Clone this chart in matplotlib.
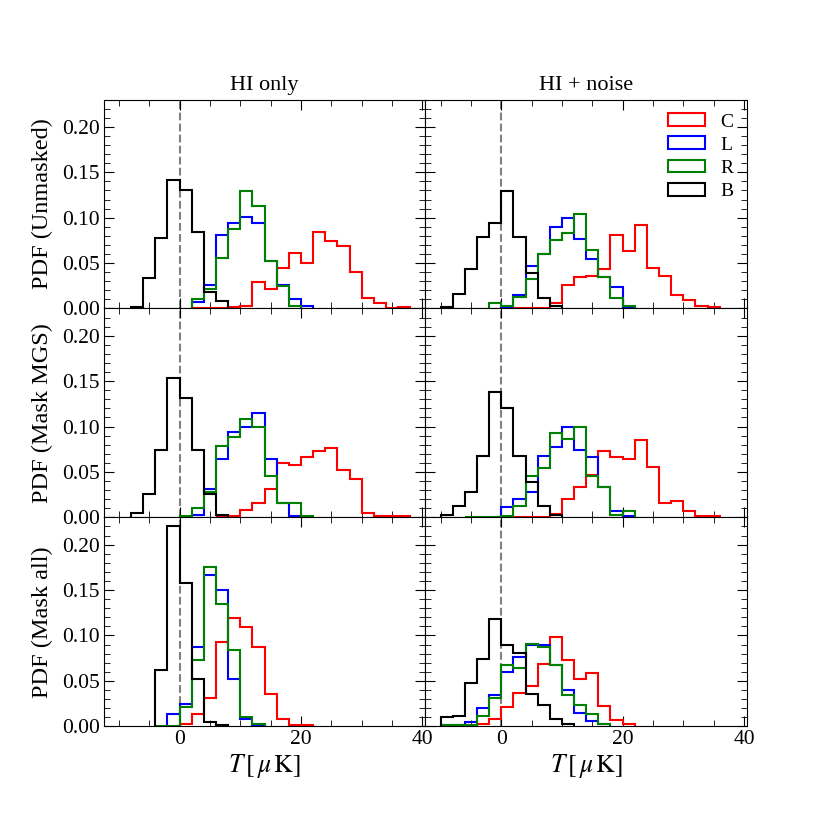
import numpy as np
import matplotlib
matplotlib.use("Agg")
import matplotlib.pyplot as plt
from matplotlib.ticker import MultipleLocator

plt.rcParams['font.family'] = 'serif'
plt.rcParams['font.serif'] = ['Liberation Serif', 'DejaVu Serif']
plt.rcParams['mathtext.fontset'] = 'stix'
plt.rcParams['font.size'] = 17.5

# bin edges (muK), 2 muK wide bins
edges = np.arange(-12, 41, 2)

# PDF values per bin, left edge -12, -10, ..., 38
# HI only, unmasked
hi_unm_C = [0, 0, 0, 0, 0, 0, 0, 0.0005, 0.0005, 0.0005, 0.002, 0.003, 0.029, 0.022, 0.045, 0.061, 0.050, 0.084, 0.074, 0.069, 0.040, 0.012, 0.006, 0.0005, 0.002, 0]
hi_unm_L = [0, 0, 0, 0, 0, 0, 0, 0.007, 0.026, 0.081, 0.094, 0.101, 0.094, 0.052, 0.026, 0.010, 0.003, 0, 0, 0, 0, 0, 0, 0, 0, 0]
hi_unm_R = [0, 0, 0, 0, 0, 0, 0, 0.010, 0.022, 0.056, 0.088, 0.129, 0.113, 0.052, 0.025, 0.003, 0, 0, 0, 0, 0, 0, 0, 0, 0, 0]
hi_unm_B = [0, 0, 0.002, 0.034, 0.078, 0.141, 0.131, 0.084, 0.018, 0.008, 0, 0, 0, 0, 0, 0, 0, 0, 0, 0, 0, 0, 0, 0, 0, 0]

# HI + noise, unmasked
hn_unm_C = [0, 0, 0, 0, 0, 0, 0, 0.0005, 0.0005, 0.0005, 0.006, 0.026, 0.035, 0.036, 0.044, 0.081, 0.063, 0.092, 0.045, 0.036, 0.015, 0.009, 0.003, 0.002, 0, 0]
hn_unm_L = [0, 0, 0, 0, 0, 0, 0.002, 0.015, 0.047, 0.060, 0.090, 0.100, 0.077, 0.055, 0.035, 0.024, 0.002, 0, 0, 0, 0, 0, 0, 0, 0, 0]
hn_unm_R = [0, 0, 0, 0, 0, 0.006, 0.003, 0.013, 0.033, 0.060, 0.075, 0.083, 0.104, 0.064, 0.035, 0.011, 0.003, 0, 0, 0, 0, 0, 0, 0, 0, 0]
hn_unm_B = [0, 0.002, 0.016, 0.043, 0.079, 0.094, 0.129, 0.079, 0.039, 0.012, 0.003, 0, 0, 0, 0, 0, 0, 0, 0, 0, 0, 0, 0, 0, 0, 0]

# HI only, mask MGS
hi_mgs_C = [0, 0, 0, 0, 0, 0, 0, 0, 0, 0.0005, 0.001, 0.008, 0.016, 0.031, 0.060, 0.058, 0.066, 0.073, 0.076, 0.052, 0.042, 0.005, 0.001, 0.001, 0.001, 0]
hi_mgs_L = [0, 0, 0, 0, 0, 0, 0, 0.003, 0.031, 0.064, 0.094, 0.100, 0.115, 0.064, 0.016, 0.001, 0, 0, 0, 0, 0, 0, 0, 0, 0, 0]
hi_mgs_R = [0, 0, 0, 0, 0, 0, 0.001, 0.010, 0.028, 0.079, 0.089, 0.108, 0.100, 0.045, 0.016, 0.016, 0.001, 0, 0, 0, 0, 0, 0, 0, 0, 0]
hi_mgs_B = [0, 0, 0.005, 0.026, 0.074, 0.154, 0.131, 0.074, 0.026, 0.003, 0, 0, 0, 0, 0, 0, 0, 0, 0, 0, 0, 0, 0, 0, 0, 0]

# HI + noise, mask MGS
hn_mgs_C = [0, 0, 0, 0, 0, 0, 0.0005, 0.0005, 0.0005, 0.0005, 0.004, 0.020, 0.033, 0.047, 0.073, 0.066, 0.064, 0.085, 0.055, 0.016, 0.018, 0.007, 0.001, 0.001, 0, 0]
hn_mgs_L = [0, 0, 0, 0, 0, 0, 0.011, 0.020, 0.028, 0.068, 0.078, 0.100, 0.074, 0.066, 0.033, 0.007, 0.002, 0, 0, 0, 0, 0, 0, 0, 0, 0]
hn_mgs_R = [0, 0, 0, 0.0005, 0.0005, 0.0005, 0.001, 0.013, 0.045, 0.054, 0.093, 0.086, 0.100, 0.046, 0.033, 0.003, 0.007, 0, 0, 0, 0, 0, 0, 0, 0, 0]
hn_mgs_B = [0, 0.003, 0.012, 0.028, 0.068, 0.138, 0.120, 0.068, 0.039, 0.013, 0.003, 0, 0, 0, 0, 0, 0, 0, 0, 0, 0, 0, 0, 0, 0, 0]

# HI only, mask all
hi_all_C = [0, 0, 0, 0, 0, 0, 0.003, 0.013, 0.031, 0.093, 0.119, 0.109, 0.087, 0.036, 0.008, 0.001, 0.001, 0, 0, 0, 0, 0, 0, 0, 0, 0]
hi_all_L = [0, 0, 0, 0, 0, 0.013, 0.025, 0.087, 0.166, 0.150, 0.052, 0.008, 0.001, 0, 0, 0, 0, 0, 0, 0, 0, 0, 0, 0, 0, 0]
hi_all_R = [0, 0, 0, 0, 0.0005, 0.0005, 0.021, 0.073, 0.175, 0.135, 0.084, 0.010, 0.002, 0, 0, 0, 0, 0, 0, 0, 0, 0, 0, 0, 0, 0]
hi_all_B = [0, 0, 0, 0, 0.062, 0.221, 0.158, 0.052, 0.005, 0.001, 0, 0, 0, 0, 0, 0, 0, 0, 0, 0, 0, 0, 0, 0, 0, 0]

# HI + noise, mask all
hn_all_C = [0, 0, 0, 0.001, 0.003, 0.008, 0.021, 0.037, 0.044, 0.068, 0.098, 0.073, 0.052, 0.059, 0.022, 0.007, 0.003, 0, 0, 0, 0, 0, 0, 0, 0, 0]
hn_all_L = [0, 0.001, 0.001, 0.005, 0.020, 0.034, 0.060, 0.076, 0.090, 0.089, 0.067, 0.040, 0.015, 0.006, 0.002, 0, 0, 0, 0, 0, 0, 0, 0, 0, 0, 0]
hn_all_R = [0, 0.001, 0.001, 0.001, 0.011, 0.031, 0.067, 0.064, 0.091, 0.087, 0.067, 0.034, 0.023, 0.013, 0.003, 0, 0, 0, 0, 0, 0, 0, 0, 0, 0, 0]
hn_all_B = [0, 0.010, 0.011, 0.048, 0.074, 0.118, 0.090, 0.081, 0.035, 0.023, 0.008, 0.003, 0, 0, 0, 0, 0, 0, 0, 0, 0, 0, 0, 0, 0, 0]

labels = ['C', 'L', 'R', 'B']
colors = ['r', 'b', 'g', 'k']
col_titles = ['HI only', 'HI + noise']
row_labels = ['PDF (Unmasked)', 'PDF (Mask MGS)', 'PDF (Mask all)']

panels = [
    [[hi_unm_C, hi_unm_L, hi_unm_R, hi_unm_B], [hn_unm_C, hn_unm_L, hn_unm_R, hn_unm_B]],
    [[hi_mgs_C, hi_mgs_L, hi_mgs_R, hi_mgs_B], [hn_mgs_C, hn_mgs_L, hn_mgs_R, hn_mgs_B]],
    [[hi_all_C, hi_all_L, hi_all_R, hi_all_B], [hn_all_C, hn_all_L, hn_all_R, hn_all_B]],
]

fig, axes = plt.subplots(3, 2, figsize=(8.3, 8.3), dpi=100, sharex=True, sharey=True)
fig.subplots_adjust(left=0.125, right=0.9, bottom=0.125, top=0.88, wspace=0, hspace=0)

for i in range(3):
    for j in range(2):
        ax = axes[i, j]
        ax.axvline(0, color='gray', ls='--', lw=1.5, zorder=0.9)
        for vals, c, lab in zip(panels[i][j], colors, labels):
            vals = np.asarray(vals)
            nz = np.nonzero(vals)[0]
            lo, hi = nz[0], nz[-1] + 1
            ax.hist(edges[lo:hi], bins=edges[lo:hi + 1], weights=vals[lo:hi],
                    histtype='step', color=c, lw=1.5, label=lab)
        ax.set_xlim(-12.5, 40.5)
        ax.set_ylim(0, 0.23)
        ax.xaxis.set_major_locator(MultipleLocator(20))
        ax.xaxis.set_minor_locator(MultipleLocator(5))
        ax.yaxis.set_major_locator(MultipleLocator(0.05))
        ax.yaxis.set_minor_locator(MultipleLocator(0.01))
        ax.tick_params(which='both', direction='in', top=True, right=True,
                       labelsize=15.5, pad=3)
        ax.tick_params(which='major', length=7)
        ax.tick_params(which='minor', length=4)
        if j == 0:
            ax.set_ylabel(row_labels[i], labelpad=6)
            ax.yaxis.set_major_formatter(lambda v, p: f'{v:.2f}')
        if i == 0:
            ax.set_title(col_titles[j], fontsize=16, pad=7)
        if i == 2:
            ax.set_xlabel(r'$T\,[\,\mu\,{\rm K}]$', fontsize=18.5, labelpad=2)

axes[0, 1].legend(loc='upper right', frameon=False, fontsize=14,
                  handlelength=1.9, handleheight=0.65, labelspacing=0.3,
                  handletextpad=0.8, borderaxespad=0.3)

fig.savefig('out.png', dpi=100)
